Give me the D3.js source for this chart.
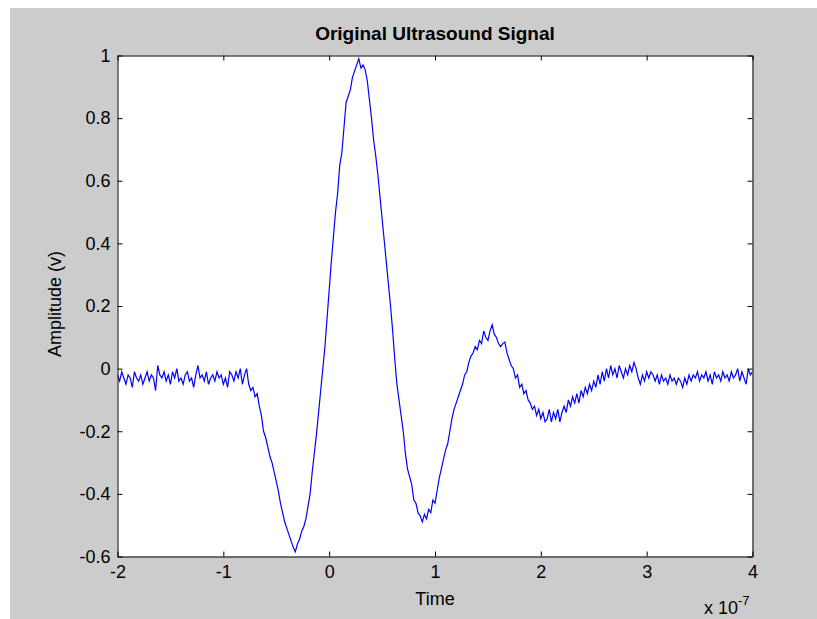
<!DOCTYPE html>
<html>
<head>
<meta charset="utf-8">
<script src="https://cdn.jsdelivr.net/npm/d3@7"></script>
<style>
  html, body { margin: 0; padding: 0; background: #ffffff; }
  svg { display: block; }
  text { font-family: "Liberation Sans Narrow", "Arial Narrow", "Liberation Sans", Arial, sans-serif; fill: #000; }
</style>
</head>
<body>
<svg id="chart" width="817" height="619"></svg>
<script>
// ---- Data (time in units of 1e-7 s, amplitude in volts) ----
const timeStart = -2;      // first sample time (x 1e-7)
const timeStep = 0.02;     // sampling interval (x 1e-7)
const amplitude = [
  -0.02,-0.04,-0.01,-0.03,-0.05,-0.02,-0.03,-0.06,-0.01,-0.03,
  -0.04,-0.02,-0.05,-0.03,-0.01,-0.04,-0.02,-0.03,-0.07,0.01,
  -0.02,-0.03,-0.01,-0.04,-0.02,-0.05,-0.01,-0.03,0.00,-0.04,
  -0.03,-0.05,-0.02,-0.01,-0.04,-0.03,-0.06,-0.02,0.01,-0.03,
  -0.02,-0.04,-0.01,-0.05,-0.03,-0.02,-0.04,-0.01,-0.03,-0.02,
  -0.05,-0.03,-0.06,-0.01,-0.02,-0.04,-0.01,-0.03,0.00,-0.05,
  -0.02,0.00,
  -0.05,-0.07,-0.06,-0.09,-0.08,-0.12,-0.15,-0.20,-0.22,-0.25,
  -0.28,-0.30,-0.33,-0.36,-0.39,-0.43,-0.46,-0.49,-0.51,-0.53,
  -0.55,-0.57,-0.585,
  -0.56,-0.545,-0.52,-0.505,-0.48,-0.44,-0.40,-0.33,-0.27,-0.21,
  -0.14,-0.07,0.00,0.07,0.16,0.25,0.34,0.42,0.50,0.56,
  0.65,0.69,0.77,0.85,0.87,0.89,0.93,0.95,0.97,0.99,
  0.96,0.97,0.955,0.92,0.86,0.80,0.73,0.68,0.62,0.55,
  0.48,0.41,0.34,0.27,0.20,0.12,0.03,-0.05,-0.10,-0.15,
  -0.20,-0.27,-0.32,-0.345,-0.37,-0.42,-0.43,-0.46,-0.47,-0.49,
  -0.465,-0.48,-0.45,-0.46,-0.42,-0.43,-0.39,-0.35,-0.32,-0.29,
  -0.26,-0.24,-0.20,-0.16,-0.13,-0.11,-0.09,-0.07,-0.05,-0.02,
  -0.01,0.02,0.04,0.05,0.07,0.06,0.09,0.08,0.12,0.10,
  0.09,0.12,0.14,0.11,0.10,0.08,0.07,0.08,0.085,0.05,
  0.03,0.01,0.00,-0.03,-0.02,-0.06,-0.05,-0.08,-0.07,-0.10,
  -0.11,-0.13,-0.12,-0.15,-0.13,-0.16,-0.14,-0.17,-0.16,-0.13,
  -0.17,-0.14,-0.16,-0.13,-0.17,-0.14,-0.12,-0.14,-0.10,-0.12,
  -0.09,-0.11,-0.08,-0.11,-0.07,-0.09,-0.06,-0.08,-0.05,-0.07,
  -0.04,-0.06,-0.02,-0.05,-0.01,-0.04,0.00,-0.03,0.01,-0.02,
  0.00,-0.03,0.01,-0.01,-0.03,0.00,-0.02,0.01,-0.01,0.02,
  0.00,-0.03,-0.05,-0.02,-0.04,-0.01,-0.03,-0.01,-0.02,-0.04,
  -0.02,-0.05,-0.02,-0.04,-0.03,-0.05,-0.02,-0.04,-0.03,-0.05,
  -0.03,-0.04,-0.06,-0.03,-0.05,-0.02,-0.04,-0.02,-0.03,-0.01,
  -0.04,-0.02,-0.03,-0.01,-0.04,-0.02,-0.05,-0.01,-0.03,-0.02,
  -0.04,-0.01,-0.03,-0.02,-0.04,-0.01,-0.03,-0.02,0.00,-0.04,
  -0.01,-0.03,-0.05,0.00,-0.02,-0.01
];
const xTicks = [-2, -1, 0, 1, 2, 3, 4];
const yTicks = [-0.6, -0.4, -0.2, 0, 0.2, 0.4, 0.6, 0.8, 1];
const titleText = "Original Ultrasound Signal";
const xLabelText = "Time";
const yLabelText = "Amplitude (v)";

// ---- Layout ----
const svg = d3.select("#chart");
const W = 817, H = 619;
const plotLeft = 117.5, plotTop = 55.5, pw = 635, ph = 501;

svg.append("rect").attr("x", 0).attr("y", 0).attr("width", W).attr("height", H).attr("fill", "#ffffff");
svg.append("rect").attr("x", 10).attr("y", 8).attr("width", W - 10).attr("height", H - 8).attr("fill", "#cccccc");

const g = svg.append("g").attr("transform", `translate(${plotLeft},${plotTop})`);
g.append("rect").attr("x", 0).attr("y", 0).attr("width", pw).attr("height", ph).attr("fill", "#ffffff");

const x = d3.scaleLinear().domain([-2, 4]).range([0, pw]);
const y = d3.scaleLinear().domain([-0.6, 1]).range([ph, 0]);

const data = amplitude.map((v, i) => ({ t: timeStart + i * timeStep, v }));

const fmt = d => String(+d.toFixed(1));

// plot line (clipped)
g.append("clipPath").attr("id", "clip").append("rect").attr("width", pw).attr("height", ph);
g.append("path")
  .datum(data)
  .attr("clip-path", "url(#clip)")
  .attr("fill", "none")
  .attr("stroke", "#0000ff")
  .attr("stroke-width", 1.2)
  .attr("d", d3.line().x(d => x(d.t)).y(d => y(d.v)));

const tickLen = 5;
const bottomAxis = g.append("g").attr("transform", `translate(0,${ph})`)
  .call(d3.axisBottom(x).tickValues(xTicks).tickFormat(fmt).tickSizeInner(-tickLen).tickSizeOuter(0).tickPadding(9));
const topAxis = g.append("g")
  .call(d3.axisTop(x).tickValues(xTicks).tickFormat("").tickSizeInner(-tickLen).tickSizeOuter(0));
const leftAxis = g.append("g")
  .call(d3.axisLeft(y).tickValues(yTicks).tickFormat(fmt).tickSizeInner(-tickLen).tickSizeOuter(0).tickPadding(7));
const rightAxis = g.append("g").attr("transform", `translate(${pw},0)`)
  .call(d3.axisRight(y).tickValues(yTicks).tickFormat("").tickSizeInner(-tickLen).tickSizeOuter(0));

[bottomAxis, topAxis, leftAxis, rightAxis].forEach(a => {
  a.attr("font-family", null).attr("font-size", 18);
  a.selectAll("path.domain").attr("stroke", "#000");
  a.selectAll(".tick line").attr("stroke", "#000");
  a.selectAll("text").attr("fill", "#000");
});

// Title
svg.append("text").attr("x", 435).attr("y", 40).attr("text-anchor", "middle")
  .attr("font-size", 19).attr("font-weight", "bold").text(titleText);
// X label
svg.append("text").attr("x", 435).attr("y", 605).attr("text-anchor", "middle")
  .attr("font-size", 18).text(xLabelText);
// Y label
svg.append("text").attr("transform", "translate(61,304) rotate(-90)").attr("text-anchor", "middle")
  .attr("font-size", 18).text(yLabelText);
// Exponent
const ex = svg.append("text").attr("x", 704).attr("y", 614).attr("font-size", 18);
ex.append("tspan").text("x 10");
ex.append("tspan").attr("dy", -9).attr("font-size", 13).text("-7");
</script>
</body>
</html>
